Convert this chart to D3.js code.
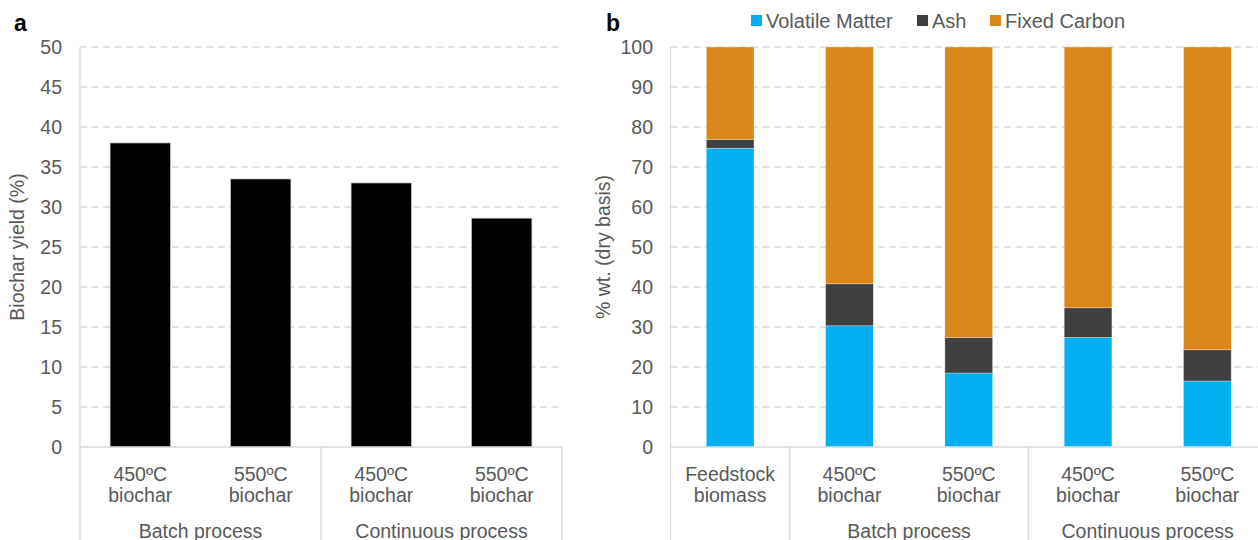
<!DOCTYPE html>
<html><head><meta charset="utf-8">
<script src="https://cdnjs.cloudflare.com/ajax/libs/d3/7.8.5/d3.min.js"></script>
<style>
body{margin:0;background:#fff;}
svg text{font-family:"Liberation Sans",Arial,sans-serif;}
</style></head>
<body><svg id="c" width="1258" height="540"></svg>
<script>
// ---- Data ----
const catsA = ["450ºC|biochar","550ºC|biochar","450ºC|biochar ","550ºC|biochar "];
const groupsA = [{name:"Batch process", from:0, to:1},{name:"Continuous process", from:2, to:3}];
const yieldA = [38.0, 33.5, 33.0, 28.6];
const yTicksA = [0,5,10,15,20,25,30,35,40,45,50];

const catsB = ["Feedstock|biomass","450ºC|biochar","550ºC|biochar","450ºC|biochar ","550ºC|biochar "];
const groupsB = [{name:"", from:0, to:0},{name:"Batch process", from:1, to:2},{name:"Continuous process", from:3, to:4}];
const seriesNames = ["Volatile Matter","Ash","Fixed Carbon"];
const volatileMatter = [74.7, 30.3, 18.5, 27.4, 16.5];
const ash = [2.2, 10.5, 8.9, 7.4, 7.8];
const fixedCarbon = [23.1, 59.2, 72.6, 65.2, 75.7];
const yTicksB = [0,10,20,30,40,50,60,70,80,90,100];
const colors = ["#00B0F0","#404040","#DA8619"];

const svg = d3.select("#c");
const FS = 19.5, TXT = "#595959", GRID = "#D9D9D9";
const yTop = 47, yBot = 447;

function catLabels(g, x, cats){
  cats.forEach(c=>{
    const [l1,l2] = c.split("|");
    const cx = x(c) + x.bandwidth()/2;
    const t = g.append("text").attr("text-anchor","middle").attr("fill",TXT).attr("font-size",FS);
    t.append("tspan").attr("x",cx).attr("y",481).text(l1);
    t.append("tspan").attr("x",cx).attr("y",502).text(l2.trim());
  });
}
function groupsDraw(g, x, cats, groups){
  const step = x.step();
  const left = i => x(cats[i]) + x.bandwidth()/2 - step/2;
  const right = i => x(cats[i]) + x.bandwidth()/2 + step/2;
  const bounds = new Set();
  groups.forEach(gr=>{ bounds.add(left(gr.from)); bounds.add(right(gr.to)); });
  bounds.forEach(b=>{
    g.append("line").attr("x1",b).attr("x2",b).attr("y1",yBot).attr("y2",540)
     .attr("stroke",GRID).attr("stroke-width",1.3);
  });
  groups.forEach(gr=>{
    if(!gr.name) return;
    g.append("text").attr("x",(left(gr.from)+right(gr.to))/2).attr("y",538)
     .attr("text-anchor","middle").attr("fill",TXT).attr("font-size",FS).text(gr.name);
  });
}
function yAxisDraw(g, y, ticks, x0, x1, labelRight){
  ticks.forEach(t=>{
    if(t>0) g.append("line").attr("x1",x0).attr("x2",x1).attr("y1",y(t)).attr("y2",y(t))
      .attr("stroke",GRID).attr("stroke-width",1.3).attr("stroke-dasharray","7,4.5");
  });
  const ax = d3.axisLeft(y).tickValues(ticks).tickSize(0).tickPadding(0);
  const a = g.append("g").attr("transform",`translate(${labelRight},0)`).call(ax);
  a.select(".domain").remove();
  a.selectAll("text").attr("fill",TXT).attr("font-size",FS).attr("font-family","Liberation Sans, Arial, sans-serif");
  g.append("line").attr("x1",x0).attr("x2",x0).attr("y1",yTop).attr("y2",yBot).attr("stroke",GRID).attr("stroke-width",1.3);
}

// ---- Panel a ----
const gA = svg.append("g");
const xA = d3.scaleBand().domain(catsA).range([80,562]).paddingInner(0.5).paddingOuter(0.25);
const yA = d3.scaleLinear().domain([0,50]).range([yBot,yTop]);
yAxisDraw(gA, yA, yTicksA, 80, 562, 62);
gA.selectAll("rect.bar").data(yieldA).join("rect").attr("class","bar")
  .attr("x",(d,i)=>xA(catsA[i])).attr("width",xA.bandwidth())
  .attr("y",d=>yA(d)).attr("height",d=>yA(0)-yA(d))
  .attr("fill","#000").attr("stroke","#bfbfbf").attr("stroke-width",0.6);
gA.append("line").attr("x1",80).attr("x2",562).attr("y1",yBot).attr("y2",yBot).attr("stroke",GRID).attr("stroke-width",1.3);
catLabels(gA, xA, catsA);
groupsDraw(gA, xA, catsA, groupsA);
gA.append("text").attr("transform","translate(24,247) rotate(-90)").attr("text-anchor","middle")
  .attr("fill",TXT).attr("font-size",FS).text("Biochar yield (%)");
gA.append("text").attr("x",14).attr("y",31).attr("font-weight","bold").attr("font-size",23).attr("fill","#000").text("a");

// ---- Panel b ----
const gB = svg.append("g");
const xB = d3.scaleBand().domain(catsB).range([670.5,1267]).paddingInner(0.6).paddingOuter(0.3);
const yB = d3.scaleLinear().domain([0,100]).range([yBot,yTop]);
yAxisDraw(gB, yB, yTicksB, 670.5, 1267, 653);
const table = catsB.map((c,i)=>({cat:c, "Volatile Matter":volatileMatter[i], "Ash":ash[i], "Fixed Carbon":fixedCarbon[i]}));
const stack = d3.stack().keys(seriesNames)(table);
stack.forEach((s,si)=>{
  gB.append("g").selectAll("rect").data(s).join("rect")
    .attr("x",d=>xB(d.data.cat)).attr("width",xB.bandwidth())
    .attr("y",d=>yB(d[1])).attr("height",d=>yB(d[0])-yB(d[1]))
    .attr("fill",colors[si]).attr("stroke","#fff").attr("stroke-opacity",0.5).attr("stroke-width",0.6);
});
gB.append("line").attr("x1",670.5).attr("x2",1267).attr("y1",yBot).attr("y2",yBot).attr("stroke",GRID).attr("stroke-width",1.3);
catLabels(gB, xB, catsB);
groupsDraw(gB, xB, catsB, groupsB);
gB.append("text").attr("transform","translate(610,247) rotate(-90)").attr("text-anchor","middle")
  .attr("fill",TXT).attr("font-size",FS).text("% wt. (dry basis)");
gB.append("text").attr("x",606).attr("y",31).attr("font-weight","bold").attr("font-size",23).attr("fill","#000").text("b");

// legend
const legX = [751, 917, 990];
seriesNames.forEach((n,i)=>{
  gB.append("rect").attr("x",legX[i]).attr("y",15).attr("width",11).attr("height",11).attr("fill",colors[i]);
  gB.append("text").attr("x",legX[i]+15).attr("y",27.5).attr("fill",TXT).attr("font-size",20).text(n);
});
</script></body></html>
